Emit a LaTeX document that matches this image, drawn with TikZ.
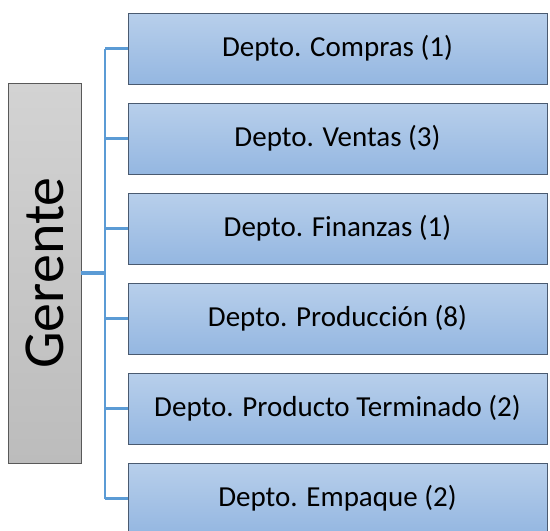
\documentclass[tikz,border=0pt]{standalone}
\usepackage{fontspec}
\setmainfont{Carlito}
\definecolor{deptop}{HTML}{B8CFEB}
\definecolor{depbot}{HTML}{94B7E1}
\definecolor{depline}{HTML}{4A5A70}
\definecolor{gertop}{HTML}{D3D3D3}
\definecolor{gerbot}{HTML}{BCBCBC}
\definecolor{linkblue}{HTML}{5B9BD5}
\tikzset{
    depto/.style={draw=depline, top color=deptop, bottom color=depbot,
        minimum width=419pt, minimum height=71pt, inner sep=0pt,
        font=\fontsize{29}{34}\selectfont},
    gerente/.style={draw=gray!70!black, top color=gertop, bottom color=gerbot,
        minimum width=73pt, minimum height=380pt, inner sep=0pt},
    link/.style={draw=linkblue, line width=2.2pt}
}

\begin{document}
\begin{tikzpicture}[x=1pt, y=-1pt]
    \useasboundingbox (0,0) rectangle (550,531);
    % jefe
    \node[gerente] (ger) at (44.5,273) {};
    \node[rotate=90, font=\fontsize{58}{64}\selectfont] at (ger.center) {Gerente};
    % departamentos
    \node[depto] (compras) at (337.5,48.5) {Depto. Compras (1)};
    \node[depto] (ventas) at (337.5,138.5) {Depto. Ventas (3)};
    \node[depto] (finanzas) at (337.5,228.5) {Depto. Finanzas (1)};
    \node[depto] (produccion) at (337.5,318.5) {Depto. Producción (8)};
    \node[depto] (terminado) at (337.5,408.5) {Depto. Producto Terminado (2)};
    \node[depto] (empaque) at (337.5,498.5) {Depto. Empaque (2)};
    % lineas de mando
    \coordinate (top) at (105,48.5);
    \coordinate (bot) at (105,498.5);
    \draw[link] (top) -- (bot);
    \draw[link, line width=3.4pt] (ger.east) -- (ger.east -| top);
    \draw[link] (top) -- (compras.west);
    \draw[link] (ventas.west -| top) -- (ventas.west);
    \draw[link] (finanzas.west -| top) -- (finanzas.west);
    \draw[link] (produccion.west -| top) -- (produccion.west);
    \draw[link] (terminado.west -| top) -- (terminado.west);
    \draw[link] (bot) -- (empaque.west);
\end{tikzpicture}
\end{document}
